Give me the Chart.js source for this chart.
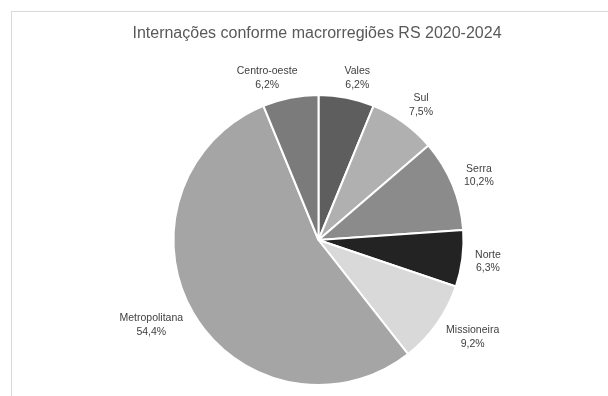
<!DOCTYPE html>
<html>
<head>
<meta charset="utf-8">
<script src="https://cdn.jsdelivr.net/npm/chart.js@4.4.1/dist/chart.umd.min.js"></script>
<style>
  html, body { margin: 0; padding: 0; background: #ffffff; width: 608px; height: 396px; overflow: hidden; }
  #frame { position: absolute; left: 11px; top: 11px; width: 700px; height: 500px; border: 1px solid #d9d9d9; box-sizing: border-box; }
  #wrap { position: absolute; left: 0; top: 0; width: 608px; height: 396px; }
</style>
</head>
<body>
<div id="frame"></div>
<div id="wrap"><canvas id="c" width="608" height="396"></canvas></div>
<script>
const titleText = "Internações conforme macrorregiões RS 2020-2024";
const categories = ["Vales", "Sul", "Serra", "Norte", "Missioneira", "Metropolitana", "Centro-oeste"];
const values = [6.2, 7.5, 10.2, 6.3, 9.2, 54.4, 6.2];
const percentLabels = ["6,2%", "7,5%", "10,2%", "6,3%", "9,2%", "54,4%", "6,2%"];
const sliceColors = ["#5e5e5e", "#b0b0b0", "#8b8b8b", "#232323", "#d9d9d9", "#a5a5a5", "#7b7b7b"];

const FONT = '"Liberation Sans", Arial, sans-serif';

// Title drawn without a maxWidth so it is not squeezed into the pie's box
const freeTitle = {
  id: 'freeTitle',
  afterDraw(chart) {
    const ctx = chart.ctx;
    ctx.save();
    ctx.font = '16px ' + FONT;
    ctx.fillStyle = '#595959';
    ctx.textAlign = 'center';
    ctx.textBaseline = 'alphabetic';
    ctx.fillText(titleText, 317, 37.5);
    ctx.restore();
  }
};

// Outside-end data labels placed from each arc's geometry
const outsideLabels = {
  id: 'outsideLabels',
  afterDatasetsDraw(chart) {
    const ctx = chart.ctx;
    const meta = chart.getDatasetMeta(0);
    ctx.save();
    ctx.font = '10.5px ' + FONT;
    ctx.fillStyle = '#404040';
    ctx.textAlign = 'center';
    ctx.textBaseline = 'middle';
    const lineH = 13.5;
    meta.data.forEach((arc, i) => {
      const p = arc.getProps(['x', 'y', 'startAngle', 'endAngle', 'outerRadius'], true);
      const mid = (p.startAngle + p.endAngle) / 2;
      const dx = Math.cos(mid), dy = Math.sin(mid);
      const l1 = categories[i], l2 = percentLabels[i];
      const w = Math.max(ctx.measureText(l1).width, ctx.measureText(l2).width);
      const h = lineH * 2 + 1;
      const gap = 8 + 5 * dx * dx;
      const ax = p.x + dx * (p.outerRadius + gap);
      const ay = p.y + dy * (p.outerRadius + gap);
      const kx = Math.max(-1, Math.min(1, dx * 3.7));
      const cx = ax + kx * w / 2;
      const cy = ay + dy * h / 2 * 0.85;
      ctx.fillText(l1, cx, cy - lineH / 2);
      ctx.fillText(l2, cx, cy + lineH / 2);
    });
    ctx.restore();
  }
};

new Chart(document.getElementById('c'), {
  type: 'pie',
  data: {
    labels: categories,
    datasets: [{
      data: values,
      backgroundColor: sliceColors,
      borderColor: '#ffffff',
      borderWidth: 2
    }]
  },
  options: {
    responsive: false,
    animation: false,
    layout: { padding: { top: 94, bottom: 10, left: 172.5, right: 143.5 } },
    plugins: {
      legend: { display: false },
      tooltip: { enabled: false },
      title: { display: false }
    }
  },
  plugins: [outsideLabels, freeTitle]
});
</script>
</body>
</html>
